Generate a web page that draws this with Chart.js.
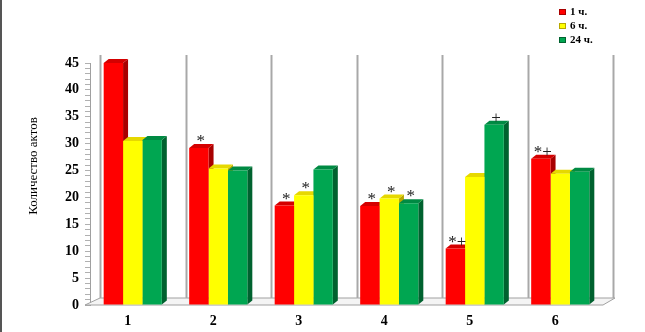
<!DOCTYPE html>
<html>
<head>
<meta charset="utf-8">
<script src="https://cdn.jsdelivr.net/npm/chart.js@4.4.1/dist/chart.umd.min.js"></script>
<style>
  html, body { margin: 0; padding: 0; background: #fff; }
  canvas { display: block; }
</style>
</head>
<body>
<canvas id="chart" width="645" height="332"></canvas>
<script>
const categories = ["1", "2", "3", "4", "5", "6"];
const seriesNames = ["1 ч.", "6 ч.", "24 ч."];
const h1 = [45, 29.2, 18.5, 18.4, 10.5, 27.2];
const h6 = [30.5, 25.4, 20.4, 19.8, 23.8, 24.4];
const h24 = [30.7, 25, 25.2, 18.9, 33.5, 24.8];
const marks1 = ["", "*", "*", "*", "*+", "*+"];
const marks6 = ["", "", "*", "*", "", ""];
const marks24 = ["", "", "", "*", "+", ""];

const fills = ["#ff0000", "#ffff00", "#00a651"];
const sides = ["#a80000", "#b8a800", "#00622f"];
const tops = ["#d40000", "#e6d800", "#008a43"];

const DX = 5, DY = 4;

const decor = {
  id: "decor",
  beforeDatasetsDraw(chart) {
    const ctx = chart.ctx;
    const a = chart.chartArea;
    const step = (a.right - a.left) / categories.length;
    ctx.save();
    // frame line at the left edge
    ctx.fillStyle = "#555";
    ctx.fillRect(0, 0, 2, chart.height);
    // floor
    ctx.beginPath();
    ctx.moveTo(a.left - 5, a.bottom);
    ctx.lineTo(a.right, a.bottom);
    ctx.lineTo(a.right + 12, a.bottom - 7);
    ctx.lineTo(a.left + 10, a.bottom - 7);
    ctx.closePath();
    ctx.fillStyle = "#f4f4f4";
    ctx.fill();
    ctx.strokeStyle = "#a0a0a0";
    ctx.lineWidth = 1;
    ctx.stroke();
    // back wall lines
    ctx.strokeStyle = "#a8a8a8";
    ctx.lineWidth = 2;
    for (let i = 0; i <= categories.length; i++) {
      const x = Math.round(a.left + step * i + 10) + 0.5;
      ctx.beginPath();
      ctx.moveTo(x, a.top - 8);
      ctx.lineTo(x, a.bottom - 7);
      ctx.stroke();
    }
    // 3d faces
    chart.data.datasets.forEach((ds, di) => {
      const meta = chart.getDatasetMeta(di);
      meta.data.forEach((bar) => {
        const l = bar.x - bar.width / 2;
        const r = bar.x + bar.width / 2;
        ctx.fillStyle = sides[di];
        ctx.beginPath();
        ctx.moveTo(r, bar.y);
        ctx.lineTo(r + DX, bar.y - DY);
        ctx.lineTo(r + DX, bar.base - DY);
        ctx.lineTo(r, bar.base);
        ctx.closePath();
        ctx.fill();
        ctx.fillStyle = tops[di];
        ctx.beginPath();
        ctx.moveTo(l, bar.y);
        ctx.lineTo(l + DX, bar.y - DY);
        ctx.lineTo(r + DX, bar.y - DY);
        ctx.lineTo(r, bar.y);
        ctx.closePath();
        ctx.fill();
      });
    });
    ctx.restore();
  },
  afterDraw(chart) {
    const ctx = chart.ctx;
    const allMarks = [marks1, marks6, marks24];
    ctx.save();
    // significance marks
    ctx.fillStyle = "#222";
    ctx.textAlign = "center";
    ctx.textBaseline = "alphabetic";
    ctx.font = "17px 'Liberation Serif'";
    chart.data.datasets.forEach((ds, di) => {
      const meta = chart.getDatasetMeta(di);
      meta.data.forEach((bar, i) => {
        const m = allMarks[di][i];
        if (m) ctx.fillText(m, bar.x + 2, bar.y - 2);
      });
    });
    // y-axis title
    ctx.save();
    ctx.translate(34, 166);
    ctx.rotate(-Math.PI / 2);
    ctx.font = "13px 'Liberation Serif'";
    ctx.fillStyle = "#000";
    ctx.textAlign = "center";
    ctx.textBaseline = "middle";
    ctx.fillText("Количество актов", 0, 0);
    ctx.restore();
    // legend
    ctx.textAlign = "left";
    ctx.textBaseline = "middle";
    ctx.font = "bold 11px 'Liberation Serif'";
    chart.data.datasets.forEach((ds, di) => {
      const y = 12 + di * 14;
      ctx.fillStyle = ds.backgroundColor;
      ctx.fillRect(559, y - 3, 7, 6);
      ctx.strokeStyle = sides[di];
      ctx.lineWidth = 1;
      ctx.strokeRect(559.5, y - 2.5, 6, 5);
      ctx.fillStyle = "#000";
      ctx.fillText(ds.label, 570, y);
    });
    ctx.restore();
  }
};

new Chart(document.getElementById("chart"), {
  type: "bar",
  data: {
    labels: categories,
    datasets: [
      { label: seriesNames[0], data: h1, backgroundColor: fills[0] },
      { label: seriesNames[1], data: h6, backgroundColor: fills[1] },
      { label: seriesNames[2], data: h24, backgroundColor: fills[2] },
    ],
  },
  options: {
    responsive: false,
    animation: false,
    layout: { padding: { top: 63, right: 42, left: 0, bottom: 0 } },
    datasets: { bar: { barPercentage: 1, categoryPercentage: 0.68, borderWidth: 0 } },
    plugins: { legend: { display: false }, tooltip: { enabled: false } },
    scales: {
      x: {
        grid: { display: false, drawTicks: false },
        border: { display: false },
        ticks: {
          color: "#000",
          labelOffset: -5,
          padding: 8,
          font: { family: "'Liberation Serif'", size: 14, weight: "bold" },
        },
        afterFit: (s) => { s.height = 27; },
      },
      y: {
        min: 0,
        max: 45,
        ticks: {
          stepSize: 1,
          autoSkip: false,
          color: "#000",
          padding: 6,
          callback: (v) => (v % 5 === 0 ? v : ""),
          font: { family: "'Liberation Serif'", size: 14, weight: "bold" },
        },
        grid: { drawOnChartArea: false, tickLength: 5, color: "#b0b0b0" },
        border: { display: true, color: "#a0a0a0" },
        afterFit: (s) => { s.width = 90; },
      },
    },
  },
  plugins: [decor],
});
</script>
</body>
</html>
